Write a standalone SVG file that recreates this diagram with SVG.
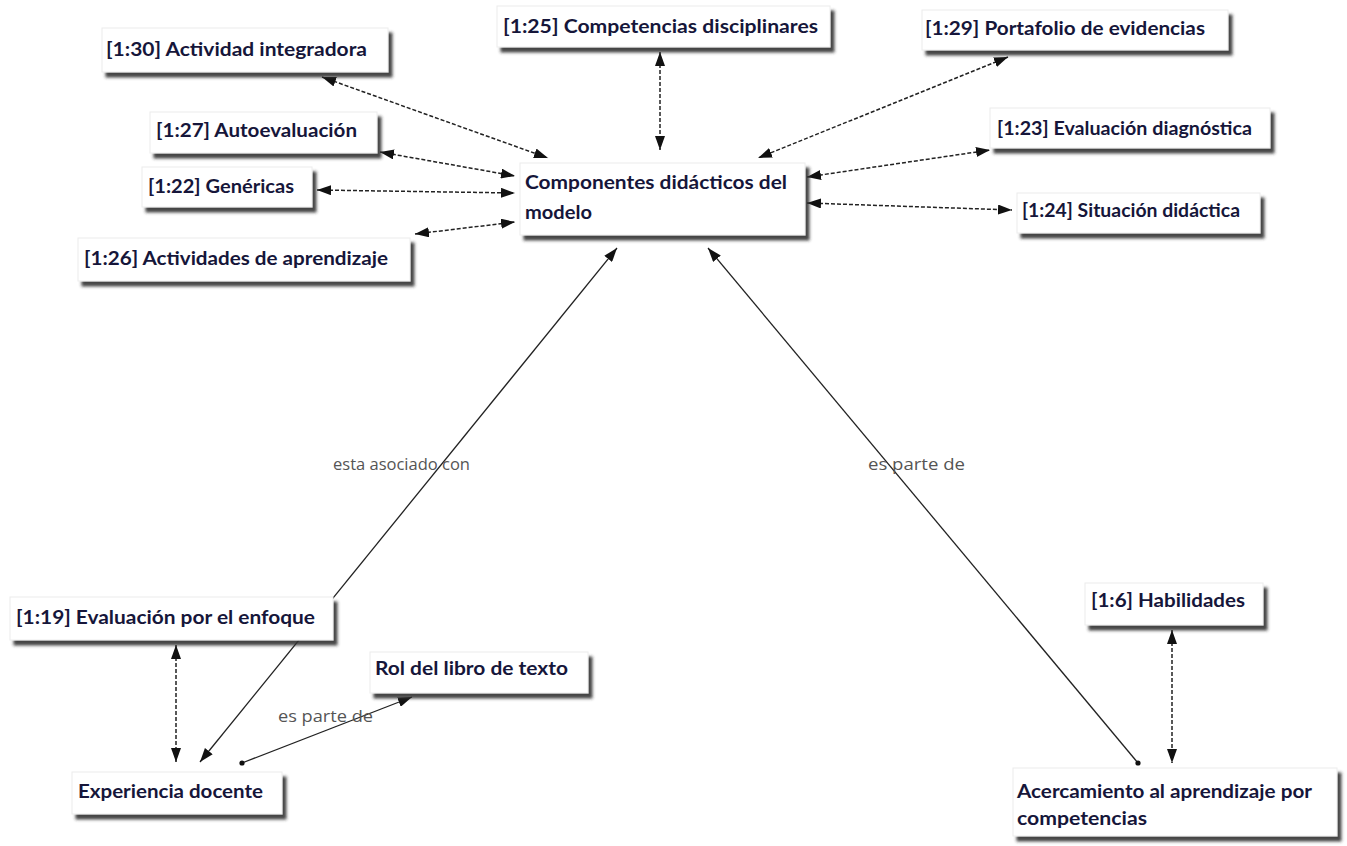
<svg xmlns="http://www.w3.org/2000/svg" width="1347" height="846" viewBox="0 0 1347 846">
<style>
.box{fill:#fff;stroke:#ececec;stroke-width:1;filter:url(#sh)}
.t{font-family:Lato,"Liberation Sans",sans-serif;font-weight:700;font-size:18px;fill:#16163a}
.lbl{font-family:"Open Sans","Liberation Sans",sans-serif;font-size:16px;fill:#555}
.dash{stroke:#222;stroke-width:1.5;stroke-dasharray:4 2;fill:none;marker-start:url(#ah);marker-end:url(#ah)}
.solid{stroke:#222;stroke-width:1.3;fill:none}
</style>
<defs>
<filter id="sh" x="-10%" y="-30%" width="130%" height="180%">
<feDropShadow dx="4" dy="5" stdDeviation="1.5" flood-color="#333" flood-opacity="0.9"/>
</filter>
<marker id="ah" viewBox="0 0 14 10" refX="14" refY="5" markerWidth="14" markerHeight="10" markerUnits="userSpaceOnUse" orient="auto-start-reverse">
<path d="M0,0 L14,5 L0,10 z" fill="#111"/>
</marker>
<marker id="dot" viewBox="0 0 6 6" refX="3" refY="3" markerWidth="6" markerHeight="6" markerUnits="userSpaceOnUse">
<circle cx="3" cy="3" r="2.6" fill="#111"/>
</marker>
</defs>

<g id="connectors">
<line class="dash" x1="322" y1="77" x2="548" y2="158"/>
<line class="dash" x1="660" y1="52" x2="660" y2="150"/>
<line class="dash" x1="1008" y1="57" x2="758" y2="158"/>
<line class="dash" x1="380" y1="152" x2="515" y2="176"/>
<line class="dash" x1="317" y1="190" x2="515" y2="193"/>
<line class="dash" x1="415" y1="234" x2="515" y2="222"/>
<line class="dash" x1="807" y1="177" x2="990" y2="150"/>
<line class="dash" x1="807" y1="203" x2="1012" y2="210"/>
<line class="dash" x1="176" y1="645" x2="176" y2="762"/>
<line class="dash" x1="1172" y1="630" x2="1172" y2="763"/>
<line class="solid" x1="200" y1="762" x2="617" y2="248" marker-start="url(#ah)" marker-end="url(#ah)"/>
<line class="solid" x1="1138" y1="763" x2="708" y2="248" marker-start="url(#dot)" marker-end="url(#ah)"/>
<line class="solid" x1="242" y1="763" x2="412" y2="697" marker-start="url(#dot)" marker-end="url(#ah)"/>
<text class="lbl" x="333" y="470" textLength="137" lengthAdjust="spacingAndGlyphs">esta asociado con</text>
<text class="lbl" x="868" y="470" textLength="97" lengthAdjust="spacingAndGlyphs">es parte de</text>
<text class="lbl" x="278" y="722" textLength="95" lengthAdjust="spacingAndGlyphs">es parte de</text>
</g>

<g id="n30"><rect class="box" x="102" y="28" width="286" height="44"/><text class="t" x="106" y="56" textLength="261" lengthAdjust="spacingAndGlyphs">[1:30] Actividad integradora</text></g>
<g id="n25"><rect class="box" x="497" y="6" width="333" height="41"/><text class="t" x="503" y="33" textLength="315" lengthAdjust="spacingAndGlyphs">[1:25] Competencias disciplinares</text></g>
<g id="n29"><rect class="box" x="922" y="10" width="306" height="40"/><text class="t" x="925" y="35" textLength="280" lengthAdjust="spacingAndGlyphs">[1:29] Portafolio de evidencias</text></g>
<g id="n27"><rect class="box" x="150" y="112" width="227" height="41"/><text class="t" x="156" y="137" textLength="201" lengthAdjust="spacingAndGlyphs">[1:27] Autoevaluación</text></g>
<g id="n22"><rect class="box" x="142" y="167" width="170" height="40"/><text class="t" x="148" y="193" textLength="146" lengthAdjust="spacingAndGlyphs">[1:22] Genéricas</text></g>
<g id="n26"><rect class="box" x="78" y="238" width="332" height="43"/><text class="t" x="84" y="265" textLength="304" lengthAdjust="spacingAndGlyphs">[1:26] Actividades de aprendizaje</text></g>
<g id="comp"><rect class="box" x="520" y="163" width="285" height="72"/><text class="t" x="525" y="189" textLength="262" lengthAdjust="spacingAndGlyphs">Componentes didácticos del</text><text class="t" x="525" y="219" textLength="67" lengthAdjust="spacingAndGlyphs">modelo</text></g>
<g id="n23"><rect class="box" x="990" y="108" width="280" height="40"/><text class="t" x="997" y="135" textLength="255" lengthAdjust="spacingAndGlyphs">[1:23] Evaluación diagnóstica</text></g>
<g id="n24"><rect class="box" x="1017" y="193" width="243" height="40"/><text class="t" x="1022" y="217" textLength="218" lengthAdjust="spacingAndGlyphs">[1:24] Situación didáctica</text></g>
<g id="n19"><rect class="box" x="10" y="597" width="323" height="43"/><text class="t" x="16" y="624" textLength="299" lengthAdjust="spacingAndGlyphs">[1:19] Evaluación por el enfoque</text></g>
<g id="exp"><rect class="box" x="72" y="772" width="210" height="42"/><text class="t" x="78" y="798" textLength="185" lengthAdjust="spacingAndGlyphs">Experiencia docente</text></g>
<g id="rol"><rect class="box" x="370" y="652" width="218" height="41"/><text class="t" x="375" y="675" textLength="193" lengthAdjust="spacingAndGlyphs">Rol del libro de texto</text></g>
<g id="n6"><rect class="box" x="1085" y="583" width="178" height="42"/><text class="t" x="1091" y="607" textLength="154" lengthAdjust="spacingAndGlyphs">[1:6] Habilidades</text></g>
<g id="acer"><rect class="box" x="1013" y="768" width="324" height="68"/><text class="t" x="1017" y="798" textLength="295" lengthAdjust="spacingAndGlyphs">Acercamiento al aprendizaje por</text><text class="t" x="1017" y="825" textLength="130" lengthAdjust="spacingAndGlyphs">competencias</text></g>
</svg>
